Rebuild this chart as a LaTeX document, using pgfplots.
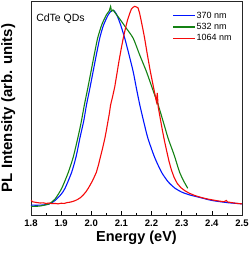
\documentclass[border=0pt]{standalone}
\usepackage{pgfplots}
\pgfplotsset{compat=1.18}
\usepackage{fontspec}
\setmainfont{Liberation Sans}
\definecolor{cblue}{RGB}{0,20,255}
\definecolor{cgreen}{RGB}{20,130,20}
\definecolor{cred}{RGB}{245,10,10}
\begin{document}
\begin{tikzpicture}
\begin{axis}[
  scale only axis,
  width=211pt, height=214pt,
  xmin=1.8, xmax=2.5, ymin=0, ymax=1,
  xtick={1.8,1.9,2.0,2.1,2.2,2.3,2.4,2.5},
  xticklabels={1.8,1.9,2.0,2.1,2.2,2.3,2.4,2.5},
  minor x tick num=1,
  ytick=\empty,
  tick pos=left,
  tick align=inside,
  major tick length=4pt, minor tick length=2.2pt,
  axis line style={line width=0.8pt, black!85},
  every tick/.style={line width=0.7pt, black},
  /pgf/number format/assume math mode=true,
  xticklabel style={font=\fontsize{9.5}{10}\selectfont\bfseries, anchor=base, yshift=-11pt},
  legend style={draw=none, fill=none, at={(rel axis cs:0.67,0.955)}, anchor=north west, font=\fontsize{9}{9}\selectfont, inner sep=0pt, row sep=1.5pt, nodes={inner sep=1pt}},
  legend cell align=left,
  legend image code/.code={\draw[#1, line width=1.1pt] (0pt,0pt) -- (22pt,0pt);},
  clip=true,
]
\addplot[cblue, line width=1.1pt, smooth, tension=0.4] coordinates {
(1.80,0.046) (1.83,0.046) (1.86,0.051) (1.88,0.068) (1.90,0.097) (1.913,0.125)
(1.935,0.200) (1.95,0.275) (1.962,0.358) (1.975,0.440) (1.984,0.514) (1.995,0.590)
(2.006,0.670) (2.017,0.750) (2.028,0.826) (2.040,0.885) (2.056,0.935) (2.067,0.955)
(2.075,0.955) (2.084,0.937) (2.097,0.890) (2.111,0.826) (2.125,0.750) (2.139,0.670)
(2.150,0.590) (2.161,0.514) (2.175,0.430) (2.188,0.358) (2.210,0.270) (2.233,0.200)
(2.255,0.155) (2.277,0.126) (2.300,0.107) (2.326,0.094) (2.360,0.082) (2.400,0.068)
(2.450,0.058) (2.500,0.052)
};
\addlegendentry{370 nm}
\addplot[cgreen, line width=1.1pt, smooth, tension=0.4] coordinates {
(1.80,0.040) (1.83,0.042) (1.86,0.052) (1.88,0.075) (1.902,0.125) (1.924,0.200)
(1.940,0.270) (1.955,0.358) (1.966,0.430) (1.977,0.514) (1.988,0.590) (1.999,0.670)
(2.010,0.750) (2.021,0.826) (2.035,0.890) (2.050,0.935) (2.060,0.955) (2.064,0.975)
(2.067,0.952) (2.072,0.958) (2.078,0.947) (2.095,0.915) (2.115,0.875) (2.139,0.826)
(2.160,0.750) (2.183,0.670) (2.203,0.590) (2.222,0.514) (2.240,0.430) (2.255,0.358)
(2.275,0.280) (2.293,0.200) (2.308,0.155) (2.320,0.125)
};
\addlegendentry{532 nm}
\addplot[cred, line width=1.1pt] coordinates {
(1.800,0.070) (1.805,0.062) (1.812,0.060) (1.820,0.058) (1.830,0.056) (1.840,0.057)
(1.850,0.054) (1.860,0.056) (1.870,0.053) (1.880,0.054) (1.890,0.052) (1.900,0.055)
(1.910,0.054) (1.920,0.058) (1.930,0.060) (1.940,0.064) (1.948,0.068) (1.955,0.073)
(1.965,0.082) (1.973,0.093) (1.982,0.108) (1.990,0.125) (1.997,0.142) (2.004,0.160)
(2.010,0.178) (2.017,0.200) (2.024,0.235) (2.031,0.275) (2.038,0.315) (2.045,0.358)
(2.050,0.395) (2.055,0.435) (2.060,0.475) (2.064,0.514) (2.071,0.555) (2.078,0.600)
(2.085,0.660) (2.092,0.720) (2.099,0.775) (2.106,0.826) (2.113,0.870) (2.120,0.910)
(2.127,0.940) (2.133,0.962) (2.138,0.970) (2.144,0.975) (2.150,0.972) (2.155,0.968)
(2.160,0.945) (2.165,0.912) (2.171,0.870) (2.177,0.826) (2.186,0.750) (2.196,0.670)
(2.206,0.600) (2.216,0.530) (2.219,0.570) (2.222,0.505) (2.229,0.450) (2.236,0.395)
(2.243,0.345) (2.250,0.300) (2.258,0.250) (2.266,0.210) (2.275,0.175) (2.285,0.148)
(2.297,0.128) (2.310,0.114) (2.325,0.102) (2.340,0.093) (2.355,0.086) (2.370,0.080)
(2.385,0.075) (2.400,0.071) (2.420,0.066) (2.440,0.062) (2.448,0.068) (2.452,0.061)
(2.470,0.057) (2.485,0.054) (2.500,0.052)
};
\addlegendentry{1064 nm}
\node[anchor=west, font=\fontsize{10.5}{11}\selectfont, inner sep=0pt] at (rel axis cs:0.024,0.918) {CdTe QDs};
\end{axis}
\node[rotate=90, anchor=south, inner sep=0pt, font=\fontsize{15}{15}\selectfont\bfseries] at ([xshift=-15.5pt]current axis.west) {PL Intensity (arb. units)};
\node[anchor=base, inner sep=0pt, font=\fontsize{14.5}{15}\selectfont\bfseries] at ([yshift=-26pt]current axis.south) {Energy (eV)};
\pgfresetboundingbox
\path[use as bounding box] ([xshift=-31pt,yshift=-40pt]current axis.south west) rectangle ([xshift=9pt,yshift=1pt]current axis.north east);
\end{tikzpicture}
\end{document}
